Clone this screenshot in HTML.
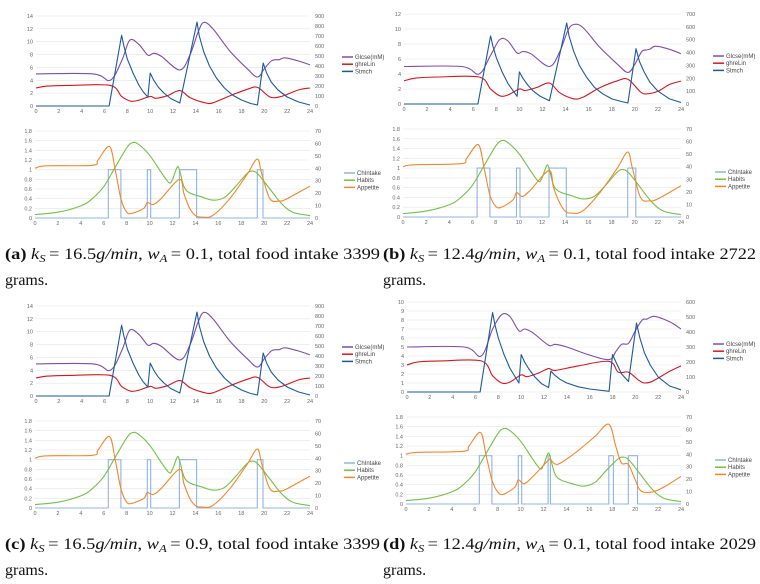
<!DOCTYPE html>
<html><head><meta charset="utf-8"><style>
body{margin:0;background:#fff;width:760px;height:584px;overflow:hidden}
svg{display:block}
.t{font-family:"Liberation Sans",sans-serif;font-size:5.5px;fill:#666}
.lg{font-family:"Liberation Sans",sans-serif;font-size:6px;fill:#444}
.cap{font-family:"Liberation Serif",serif;font-size:16px;fill:#111}
</style></head><body>
<svg id="fig" width="760" height="584" viewBox="0 0 760 584" xmlns="http://www.w3.org/2000/svg">
<g id="charts"></g>
<text class="cap" x="5" y="259" textLength="375" lengthAdjust="spacingAndGlyphs"><tspan font-weight="bold">(a)</tspan> <tspan font-style="italic">k<tspan font-size="11" dy="3">S</tspan></tspan><tspan dy="-3" dx="3">= 16.5</tspan><tspan font-style="italic">g/min</tspan>, <tspan font-style="italic">w<tspan font-size="11" dy="3">A</tspan></tspan><tspan dy="-3" dx="3">= 0.1, total food intake 3399</tspan></text>
<text class="cap" x="5" y="285">grams.</text>
<text class="cap" x="383" y="259" textLength="373" lengthAdjust="spacingAndGlyphs"><tspan font-weight="bold">(b)</tspan> <tspan font-style="italic">k<tspan font-size="11" dy="3">S</tspan></tspan><tspan dy="-3" dx="3">= 12.4</tspan><tspan font-style="italic">g/min</tspan>, <tspan font-style="italic">w<tspan font-size="11" dy="3">A</tspan></tspan><tspan dy="-3" dx="3">= 0.1, total food intake 2722</tspan></text>
<text class="cap" x="383" y="285">grams.</text>
<text class="cap" x="5" y="549" textLength="375" lengthAdjust="spacingAndGlyphs"><tspan font-weight="bold">(c)</tspan> <tspan font-style="italic">k<tspan font-size="11" dy="3">S</tspan></tspan><tspan dy="-3" dx="3">= 16.5</tspan><tspan font-style="italic">g/min</tspan>, <tspan font-style="italic">w<tspan font-size="11" dy="3">A</tspan></tspan><tspan dy="-3" dx="3">= 0.9, total food intake 3399</tspan></text>
<text class="cap" x="5" y="575">grams.</text>
<text class="cap" x="383" y="549" textLength="373" lengthAdjust="spacingAndGlyphs"><tspan font-weight="bold">(d)</tspan> <tspan font-style="italic">k<tspan font-size="11" dy="3">S</tspan></tspan><tspan dy="-3" dx="3">= 12.4</tspan><tspan font-style="italic">g/min</tspan>, <tspan font-style="italic">w<tspan font-size="11" dy="3">A</tspan></tspan><tspan dy="-3" dx="3">= 0.1, total food intake 2029</tspan></text>
<text class="cap" x="383" y="575">grams.</text>
</svg>
<script>
// ---- data (time in hours, value) ----
const xTicks=[0,2,4,6,8,10,12,14,16,18,20,22,24];
const glucoseA=[[0,5],[5,5],[6.5,4],[7.5,7],[8.2,10.2],[9,9.6],[9.8,7.9],[10.3,8.2],[11,7.7],[12.6,5.6],[13.5,8],[14.2,11.5],[14.7,13],[15.5,12],[17,8.5],[18.5,5.8],[19.4,4.5],[20,5.8],[20.6,7],[21,7.2],[21.3,7.2],[21.8,7.5],[23,7],[24,6.4]];
const ghrelinA=[[0,2.8],[1,3.1],[3,3.2],[6.5,3.2],[7.5,1.5],[8.3,0.75],[9,0.9],[10,1.5],[10.5,1.2],[11.5,1.6],[12.6,2.4],[13.5,1.3],[14.8,0.5],[15.5,0.5],[17,1.6],[18.5,2.6],[19.4,2.9],[20.5,1.4],[21.5,1.5],[23,2.5],[24,2.8]];
const stimchA=[[0,0],[6.4,0],[7.5,707],[7.7,600],[8,470],[8.5,330],[9,210],[9.4,140],[9.8,90],[10,330],[10.3,260],[10.7,190],[11.2,130],[11.8,75],[12.6,30],[14.1,840],[14.3,700],[14.7,540],[15.2,400],[15.8,280],[16.5,180],[17.2,110],[18,60],[18.8,25],[19.4,10],[19.9,430],[20.2,330],[20.6,240],[21.2,160],[22,90],[23,40],[24,10]];
const intakeA=[[6.4,7.5],[9.8,10.1],[12.6,14.1],[19.4,19.9]];
const habitsA=[[0,0.07],[2,0.12],[4,0.25],[5,0.4],[6,0.65],[7,1.05],[8,1.45],[8.5,1.56],[9,1.53],[10,1.3],[11,0.95],[11.7,0.73],[12,0.8],[12.4,1.05],[12.6,1],[13,0.65],[13.5,0.52],[14.5,0.44],[15.5,0.37],[16.5,0.42],[17.5,0.65],[18.5,0.92],[19,0.97],[19.5,0.9],[20.5,0.6],[21.5,0.3],[22.5,0.12],[24,0.05]];
const appetiteA=[[0,1.03],[1,1.08],[5,1.09],[5.5,1.2],[6.5,1.48],[7,1],[7.5,0.4],[8,0.12],[8.5,0.1],[9.5,0.2],[9.8,0.32],[10.3,0.28],[11,0.4],[12.6,0.8],[13,0.5],[13.5,0.2],[14,0.05],[14.5,0.02],[15.5,0.05],[17,0.4],[18.5,0.9],[19.4,1.22],[19.8,0.9],[20.5,0.4],[21.3,0.35],[22,0.4],[24,0.66]];
const glucoseB=[[0,5],[5,5],[6.5,4],[7.5,6.5],[8.3,8.6],[9,8.4],[9.8,6.8],[10.3,7],[11,6.7],[12.6,5],[13.5,7],[14.2,9.8],[14.7,10.6],[15.5,10.2],[17,7.5],[18.5,5.3],[19.4,4.2],[20,5.3],[20.6,7],[21,7.2],[21.3,7.3],[21.8,7.7],[23,7.3],[24,6.7]];
const ghrelinB=[[0,3.1],[1,3.45],[3,3.6],[6.5,3.6],[7.5,2],[8.3,1.1],[9,1.2],[10,2],[10.5,1.8],[11.5,2.2],[12.6,2.8],[13.5,1.5],[14.7,0.7],[15.5,0.9],[17,2.2],[18.5,3.1],[19.4,3.3],[20.5,1.6],[21,1.35],[22,1.7],[23,2.6],[24,3.05]];
const stimchB=[[0,0],[6.4,0],[7.5,530],[7.7,450],[8,360],[8.5,250],[9,160],[9.4,110],[9.8,60],[10,250],[10.3,200],[10.7,150],[11.2,100],[11.8,60],[12.6,25],[14.1,630],[14.3,530],[14.7,410],[15.2,300],[15.8,210],[16.5,130],[17.2,80],[18,40],[18.8,20],[19.4,8],[20.1,430],[20.4,330],[20.8,250],[21.3,170],[22,100],[23,40],[24,12]];
const intakeB=[[6.4,7.5],[9.8,10.1],[12.6,14.1],[19.4,20.1]];
const appetiteB=[[0,1.03],[1,1.07],[5,1.09],[5.5,1.2],[6.5,1.48],[7,1],[7.5,0.45],[8,0.22],[8.5,0.2],[9.5,0.35],[9.8,0.5],[10.3,0.42],[11,0.55],[12.6,0.95],[13,0.6],[13.5,0.3],[14,0.12],[14.5,0.08],[15.5,0.12],[17,0.5],[18.5,1],[19.4,1.33],[19.8,1],[20.5,0.4],[21.3,0.33],[22,0.37],[24,0.64]];
const glucoseD=[[0,5],[5,5],[6.5,4],[7.5,7],[8.3,8.6],[9,8.4],[9.8,6.8],[10.3,7],[11,6.6],[12.4,5.2],[13,5.3],[14,5],[16,4.1],[17.7,3.6],[18.3,4.5],[18.8,5.3],[19.4,5.4],[20,6.8],[20.6,8],[21,8.1],[21.7,8.4],[23,7.8],[24,7]];
const ghrelinD=[[0,3],[1,3.35],[3,3.45],[6.5,3.45],[7.5,1.8],[8.3,1],[9,1.1],[10,1.9],[10.5,1.7],[11.5,2.1],[12.4,2.6],[13,2.4],[15,2.9],[17.7,3.4],[18.5,2.2],[19.4,2.2],[20.3,1.3],[20.8,1],[21.5,1.2],[23,2.3],[24,2.9]];
const stimchD=[[0,0],[6.4,0],[7.5,530],[7.7,450],[8,360],[8.5,250],[9,160],[9.4,110],[9.8,60],[10,250],[10.3,200],[10.7,150],[11.2,100],[11.8,55],[12.4,30],[12.6,140],[12.9,115],[13.4,85],[14,60],[15,35],[16,20],[17.7,5],[18,250],[18.3,200],[18.8,120],[19.4,70],[20.1,460],[20.4,360],[20.8,260],[21.3,180],[22,100],[23,40],[24,15]];
const intakeD=[[6.4,7.5],[9.8,10.1],[12.4,12.6],[17.7,18.1],[19.4,20.2]];
const habitsD=[[0,0.07],[2,0.12],[4,0.25],[5,0.4],[6,0.65],[7,1.05],[8,1.45],[8.5,1.56],[9,1.53],[10,1.3],[11,0.95],[11.7,0.73],[12,0.8],[12.4,1.05],[12.6,0.95],[13,0.62],[13.5,0.5],[14.5,0.42],[15.5,0.37],[16.5,0.45],[17.5,0.7],[18.5,0.93],[19,0.97],[19.5,0.9],[20.5,0.6],[21.5,0.3],[22.5,0.12],[24,0.05]];
const appetiteD=[[0,1.03],[1,1.07],[5,1.09],[5.5,1.2],[6.5,1.48],[7,1],[7.5,0.5],[8,0.25],[8.5,0.2],[9.5,0.35],[9.8,0.5],[10.3,0.42],[11,0.55],[12.4,0.9],[12.6,0.92],[13,0.83],[13.5,0.85],[15,1.1],[16.5,1.4],[17.7,1.65],[18.3,1.2],[18.8,0.85],[19.4,0.82],[20,0.5],[20.5,0.27],[21.5,0.25],[22.5,0.35],[24,0.57]];
const topLeftTicksAC=[0,2,4,6,8,10,12,14], topRightTicksAC=[0,100,200,300,400,500,600,700,800,900];
const topLeftTicksB=[0,2,4,6,8,10,12], topRightTicksB=[0,100,200,300,400,500,600,700];
const topLeftTicksD=[0,1,2,3,4,5,6,7,8,9,10], topRightTicksD=[0,100,200,300,400,500,600];
const botLeftTicks=[0,0.2,0.4,0.6,0.8,1,1.2,1.4,1.6,1.8], botRightTicks=[0,10,20,30,40,50,60,70];

const NS='http://www.w3.org/2000/svg';
const root=document.getElementById('charts');
function mk(tag,attrs,parent){const e=document.createElementNS(NS,tag);for(const k in attrs)e.setAttribute(k,attrs[k]);(parent||root).appendChild(e);return e;}
function smoothPath(P){
  let d='M'+P[0][0].toFixed(1)+','+P[0][1].toFixed(1);
  for(let i=0;i<P.length-1;i++){
    const p0=P[i-1]||P[i],p1=P[i],p2=P[i+1],p3=P[i+2]||P[i+1];
    const c1=[p1[0]+(p2[0]-p0[0])/6,p1[1]+(p2[1]-p0[1])/6];
    const c2=[p2[0]-(p3[0]-p1[0])/6,p2[1]-(p3[1]-p1[1])/6];
    d+=' C'+c1.map(v=>v.toFixed(1)).join(',')+' '+c2.map(v=>v.toFixed(1)).join(',')+' '+p2[0].toFixed(1)+','+p2[1].toFixed(1);
  }
  return d;
}
function chart(id,x0,x1,yTop,yBot,lt,rt,series,legendX,legendY,legendNames){
  const g=mk('g',{});
  
  
  const lmax=lt[lt.length-1], rmax=rt[rt.length-1];
  const sx=t=>x0+(t/24)*(x1-x0);
  const syL=v=>yBot-(v/lmax)*(yBot-yTop);
  const syR=v=>yBot-(v/rmax)*(yBot-yTop);
  lt.forEach(v=>{
    const l=mk('line',{x1:x0,x2:x1,y1:syL(v),y2:syL(v),stroke:'#e4e4e4','stroke-width':0.6},g);
    
    
    const t=mk('text',{x:x0-3,y:syL(v)+2,'text-anchor':'end',class:'t'},g);
    t.textContent=String(v);
    
    
  });
  rt.forEach(v=>{
    const t=mk('text',{x:x1+5,y:syR(v)+2,class:'t'},g);
    t.textContent=String(v);
    
    
  });
  xTicks.forEach(v=>{
    const t=mk('text',{x:sx(v),y:yBot+7,'text-anchor':'middle',class:'t'},g);
    t.textContent=String(v);
    
    
  });
  series.forEach((s,i)=>{
    let pts;
    if(s.step){
      pts=[[0,0]];
      s.data.forEach(([a,b])=>{pts.push([a,0],[a,1],[b,1],[b,0]);});
      pts.push([24,0]);
    } else pts=s.data;
    const sy=s.right?syR:syL;
    const P=pts.map(([t,v])=>[sx(t),sy(v)]);
    let p;
    if(s.smooth){
      p=mk('path',{d:smoothPath(P),fill:'none',stroke:s.color,'stroke-width':1.1},g);
    } else {
      p=mk('polyline',{points:P.map(q=>q[0].toFixed(1)+','+q[1].toFixed(1)).join(' '),fill:'none',stroke:s.color,'stroke-width':s.w||1.1,'stroke-linejoin':'round'},g);
    }
    
    
    const ly=legendY+i*7.2;
    const ll=mk('line',{x1:legendX,x2:legendX+11,y1:ly,y2:ly,stroke:s.color,'stroke-width':1.5},g);
    
    
    const lt2=mk('text',{x:legendX+13,y:ly+2,class:'lg'},g);
    lt2.textContent=legendNames[i];
    
    
  });
}
const PUR='#7d4cb5',RED='#d9141c',BLU='#1a5a9c',LBL='#8fb4e3',GRN='#72c144',ORG='#f5862a';
const topNames=['Glcse(mM)','ghreLin','Stmch'], botNames=['ChIntake','Habits','Appetite'];
chart('chart-a-top',36,310,16,106,topLeftTicksAC,topRightTicksAC,[{data:glucoseA,color:PUR,name:'glucose',smooth:true},{data:ghrelinA,color:RED,name:'ghrelin',smooth:true},{data:stimchA,color:BLU,right:true,name:'stomach'}],342,57,topNames);
chart('chart-a-bottom',35,310,131,218,botLeftTicks,botRightTicks,[{data:intakeA,color:LBL,step:true,name:'intake'},{data:habitsA,color:GRN,name:'habits',smooth:true},{data:appetiteA,color:ORG,name:'appetite',smooth:true}],344,173,botNames);
chart('chart-b-top',404,681,14,104,topLeftTicksB,topRightTicksB,[{data:glucoseB,color:PUR,name:'glucose',smooth:true},{data:ghrelinB,color:RED,name:'ghrelin',smooth:true},{data:stimchB,color:BLU,right:true,name:'stomach'}],713,56,topNames);
chart('chart-b-bottom',403,681,129,217,botLeftTicks,botRightTicks,[{data:intakeB,color:LBL,step:true,name:'intake'},{data:habitsA,color:GRN,name:'habits',smooth:true},{data:appetiteB,color:ORG,name:'appetite',smooth:true}],715,172,botNames);
chart('chart-c-top',36,310,306,396,topLeftTicksAC,topRightTicksAC,[{data:glucoseA,color:PUR,name:'glucose',smooth:true},{data:ghrelinA,color:RED,name:'ghrelin',smooth:true},{data:stimchA,color:BLU,right:true,name:'stomach'}],342,347,topNames);
chart('chart-c-bottom',35,310,421,508,botLeftTicks,botRightTicks,[{data:intakeA,color:LBL,step:true,name:'intake'},{data:habitsA,color:GRN,name:'habits',smooth:true},{data:appetiteA,color:ORG,name:'appetite',smooth:true}],344,463,botNames);
chart('chart-d-top',407,681,302,392,topLeftTicksD,topRightTicksD,[{data:glucoseD,color:PUR,name:'glucose',smooth:true},{data:ghrelinD,color:RED,name:'ghrelin',smooth:true},{data:stimchD,color:BLU,right:true,name:'stomach'}],713,344,topNames);
chart('chart-d-bottom',406,681,417,504,botLeftTicks,botRightTicks,[{data:intakeD,color:LBL,step:true,name:'intake'},{data:habitsD,color:GRN,name:'habits',smooth:true},{data:appetiteD,color:ORG,name:'appetite',smooth:true}],715,460,botNames);
</script>
</body></html>
